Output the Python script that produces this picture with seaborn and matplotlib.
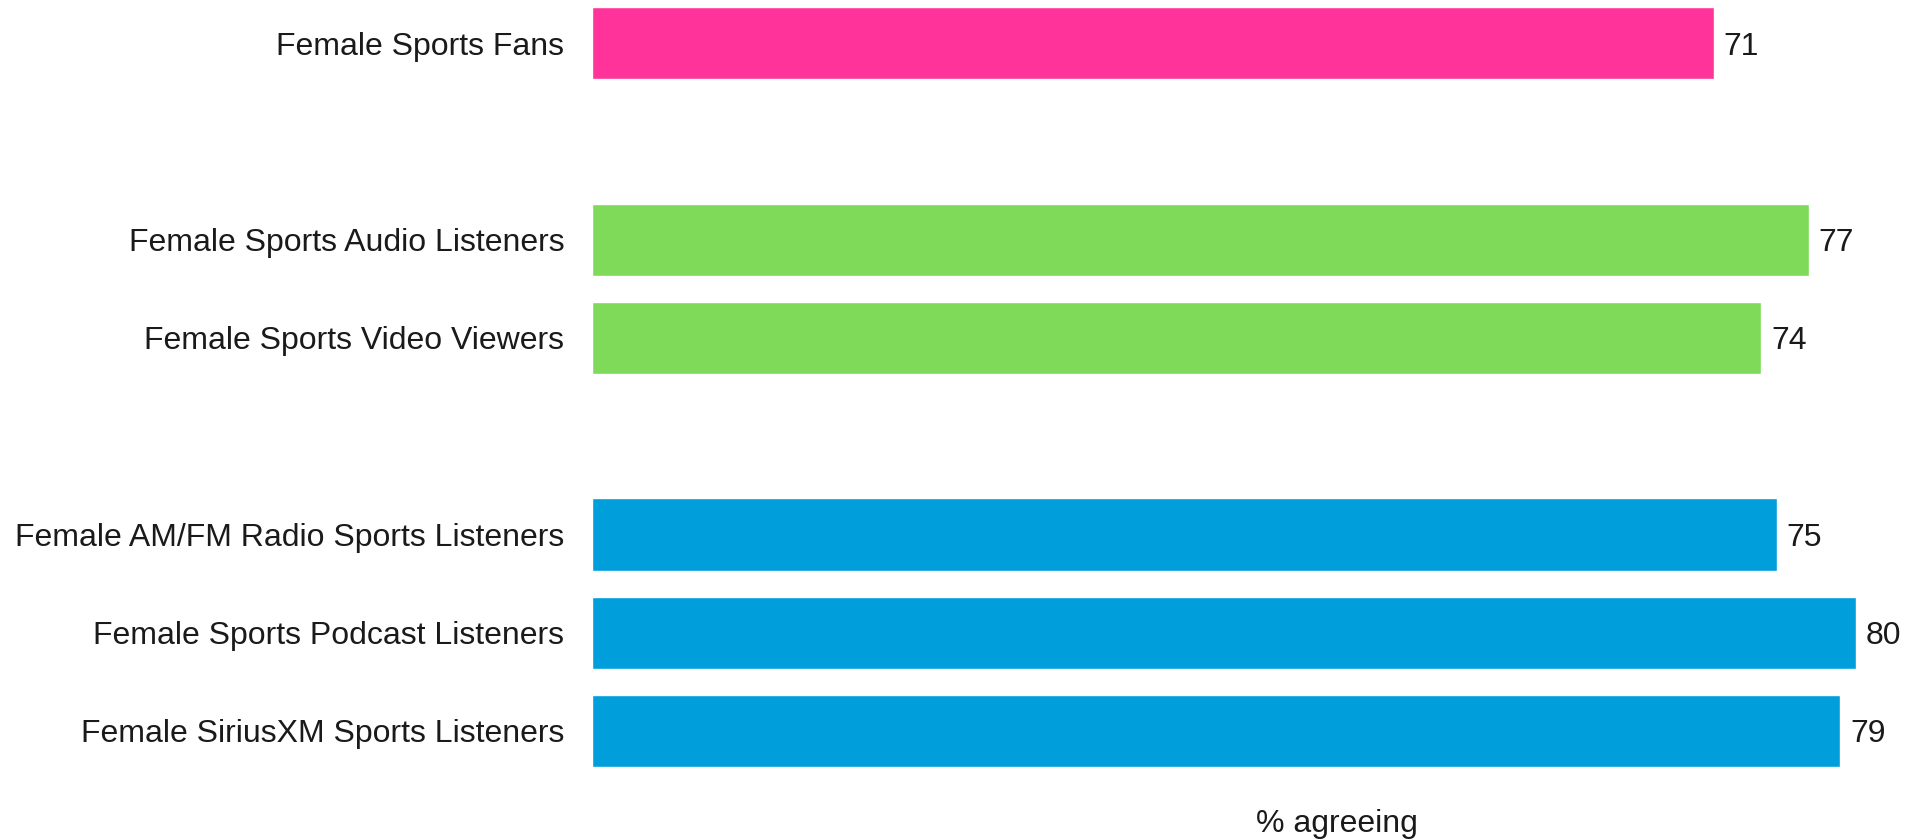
import matplotlib
matplotlib.use("Agg")
import matplotlib.pyplot as plt
import seaborn as sns
import pandas as pd

# Share of female respondents agreeing, by audience group
groups = [
    "Female Sports Fans",
    "Female Sports Audio Listeners",
    "Female Sports Video Viewers",
    "Female AM/FM Radio Sports Listeners",
    "Female Sports Podcast Listeners",
    "Female SiriusXM Sports Listeners",
]
values = [71, 77, 74, 75, 80, 79]
segments = ["Fans", "Audio", "Video", "Radio", "Radio", "Radio"]
segment_colors = {"Fans": "#FF3399", "Audio": "#7FDA5A", "Video": "#7FDA5A", "Radio": "#009EDB"}
x_label = "% agreeing"

# Empty spacer rows separate the three blocks of bars
row_order = [groups[0], " ", groups[1], groups[2], "  ", groups[3], groups[4], groups[5]]

df = pd.DataFrame({"group": groups, "value": values, "segment": segments})

sns.set_theme(style="white")
plt.rcParams["font.family"] = ["Liberation Sans", "DejaVu Sans"]

W, H = 1906, 840
FS = 23
fig = plt.figure(figsize=(W / 100, H / 100), dpi=100)
ax_w = 83 * 15.8
ax = fig.add_axes([592 / W, 60 / H, ax_w / W, 780 / H])

sns.barplot(
    data=df, x="value", y="group", hue="segment", palette=segment_colors,
    order=row_order, orient="h", width=0.735, dodge=False, legend=False,
    saturation=1, ax=ax,
)

ax.set_xlim(0, 83)
ax.set_ylim(7.5, -0.44)
for s in ax.spines.values():
    s.set_visible(False)
ax.set_xticks([])
ax.tick_params(axis="y", length=0, pad=20, labelsize=FS, labelcolor="#1a1a1a")
ax.set_ylabel("")
ax.set_xlabel(x_label, fontsize=FS, color="#1a1a1a", va="center")
ax.xaxis.set_label_coords((1337 - 592) / ax_w, -44 / 780)

for container in ax.containers:
    labels = ax.bar_label(container, fmt="%d", padding=7, fontsize=FS, color="#1a1a1a")
    for t in labels:
        t.set_verticalalignment("center_baseline")

fig.savefig("out.png", dpi=100, facecolor="white")
